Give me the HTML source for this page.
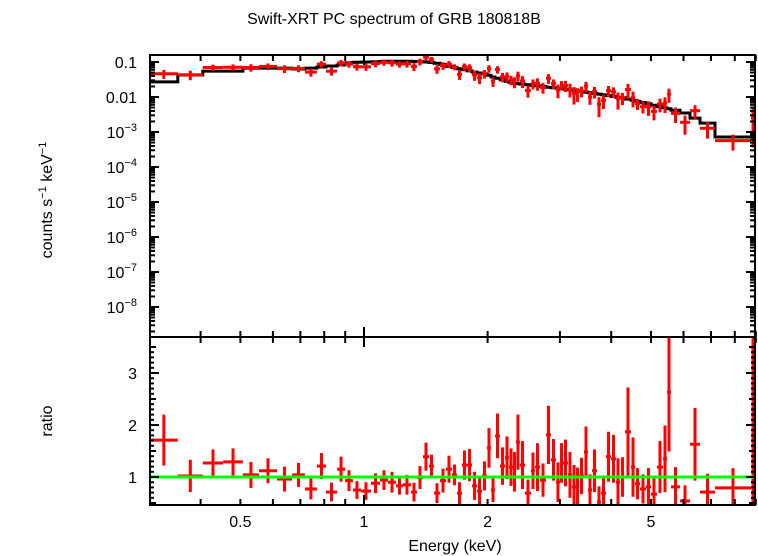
<!DOCTYPE html>
<html><head><meta charset="utf-8">
<style>
html,body{margin:0;padding:0;background:#fff;}
svg{display:block;font-family:"Liberation Sans",sans-serif;}
</style></head>
<body>
<svg id="chart" width="758" height="556" viewBox="0 0 758 556" xmlns="http://www.w3.org/2000/svg">
<defs>
<clipPath id="clipTop"><rect x="150" y="55" width="606" height="282"/></clipPath>
<clipPath id="clipBot"><rect x="150" y="337" width="606" height="168"/></clipPath>
</defs>
<text x="394" y="24" font-size="16" text-anchor="middle">Swift-XRT PC spectrum of GRB 180818B</text>
<text x="455" y="551" font-size="16" text-anchor="middle">Energy (keV)</text>
<text transform="translate(52,200) rotate(-90)" font-size="16" text-anchor="middle">counts s<tspan font-size="11" dy="-6">−1</tspan><tspan dy="6"> keV</tspan><tspan font-size="11" dy="-6">−1</tspan></text>
<text transform="translate(52,421) rotate(-90)" font-size="16" text-anchor="middle">ratio</text>
<g id="gTop" clip-path="url(#clipTop)"></g>
<g id="gBot" clip-path="url(#clipBot)"></g>
<g id="gAxes"></g>
</svg>
<script>
// Bin edges (keV)
const eEdges = [0.301,0.352,0.405,0.454,0.507,0.555,0.614,0.668,0.718,0.768,0.808,0.860,0.899,0.940,0.983,1.040,1.094,1.144,1.197,1.244,1.302,1.346,1.392,1.440,1.481,1.531,1.584,1.638,1.685,1.732,1.782,1.833,1.885,1.938,1.993,2.039,2.085,2.144,2.205,2.255,2.306,2.345,2.398,2.467,2.551,2.609,2.683,2.775,2.854,2.935,3.002,3.053,3.139,3.211,3.284,3.339,3.434,3.512,3.592,3.694,3.778,3.885,3.996,4.109,4.202,4.321,4.470,4.572,4.701,4.862,5.000,5.171,5.349,5.470,5.594,5.884,6.223,6.582,7.159,8.76,8.96];
// Data/model ratio per bin
const ratio = [1.71,1.02,1.27,1.29,1.04,1.12,0.96,1.04,0.77,1.21,0.71,1.15,0.93,0.75,0.73,0.88,0.94,0.90,0.83,0.85,0.71,0.99,1.39,1.21,0.69,0.93,1.15,1.04,0.69,1.23,1.23,0.83,0.73,1.02,1.56,0.75,1.79,1.21,1.37,1.19,1.10,1.67,1.23,0.69,1.12,1.19,0.94,1.81,1.33,0.90,1.27,1.27,1.04,0.81,0.83,1.02,1.48,0.75,1.12,0.52,0.69,1.39,1.35,0.90,1.00,1.87,1.19,0.87,0.77,0.81,0.67,1.19,1.35,2.63,0.81,0.54,1.63,0.71,0.79,3.5];
// Ratio errors
const ratioErr = [0.49,0.31,0.26,0.26,0.25,0.24,0.24,0.23,0.20,0.25,0.18,0.24,0.20,0.17,0.17,0.19,0.19,0.20,0.17,0.19,0.18,0.22,0.27,0.22,0.19,0.23,0.26,0.20,0.21,0.28,0.31,0.27,0.25,0.28,0.38,0.23,0.43,0.36,0.41,0.36,0.38,0.53,0.46,0.26,0.35,0.46,0.32,0.56,0.40,0.38,0.38,0.45,0.44,0.42,0.35,0.35,0.49,0.30,0.41,0.30,0.30,0.48,0.46,0.46,0.38,0.85,0.57,0.30,0.28,0.36,0.30,0.50,0.64,1.14,0.38,0.30,0.70,0.35,0.38,3.0];
// Folded model (counts s^-1 keV^-1) per bin
const model = [0.027,0.0425,0.055,0.055,0.067,0.067,0.067,0.063,0.067,0.072,0.077,0.082,0.094,0.098,0.100,0.102,0.104,0.105,0.105,0.105,0.104,0.103,0.100,0.097,0.092,0.085,0.0753,0.0692,0.0644,0.0599,0.0557,0.0518,0.0485,0.0454,0.0417,0.0373,0.0342,0.031,0.0283,0.0261,0.0248,0.0241,0.0234,0.0223,0.0215,0.0207,0.020,0.019,0.0184,0.0177,0.0173,0.0168,0.0162,0.0156,0.0151,0.0145,0.0138,0.0133,0.0127,0.0121,0.0116,0.011,0.0104,0.0099,0.0095,0.0087,0.0081,0.0075,0.0069,0.0064,0.0058,0.0053,0.0049,0.0046,0.0042,0.0035,0.0025,0.0018,0.00072,0.00072];
const xTicksMajor = [0.5,1,2,5];
const xTickLabels = ["0.5","1","2","5"];
const yTopDecades = [-1,-2,-3,-4,-5,-6,-7,-8];
const ratioTicks = [1,2,3];

const NS="http://www.w3.org/2000/svg";
const X0=150,X1=755,TT=55,TB=337,BT=337,BB=505;
function xS(e){return 364+410.6*Math.log10(e);}
function yT(v){return 62+35*(-1-Math.log10(v));}
function yR(r){return 477-52*(r-1);}
function mk(tag,attrs,parent){const el=document.createElementNS(NS,tag);for(const k in attrs)el.setAttribute(k,attrs[k]);parent.appendChild(el);return el;}
const gTop=document.getElementById('gTop'),gBot=document.getElementById('gBot'),gAx=document.getElementById('gAxes');

// model step line
let d="";
for(let i=0;i<model.length;i++){const xa=xS(eEdges[i]),xb=xS(eEdges[i+1]),y=yT(model[i]);d+=(i===0?"M":"L")+xa.toFixed(1)+","+y.toFixed(1)+"L"+xb.toFixed(1)+","+y.toFixed(1);}
const ml=mk('path',{d:d,fill:'none',stroke:'#000','stroke-width':3},gTop);



// data points (top) and ratio points (bottom)
for(let i=0;i<ratio.length;i++){
  const xa=xS(eEdges[i]),xb=xS(eEdges[i+1]),xc=xS(Math.sqrt(eEdges[i]*eEdges[i+1]));
  const v=model[i]*ratio[i],ve=model[i]*ratioErr[i];
  const g=mk('g',{stroke:'#f00','stroke-width':3},gTop);
  
  
  mk('line',{x1:xa,x2:xb,y1:yT(v),y2:yT(v)},g);
  const lo=Math.max(v-ve,1e-10);
  mk('line',{x1:xc,x2:xc,y1:yT(v+ve),y2:yT(lo)},g);
  const g2=mk('g',{stroke:'#f00','stroke-width':3},gBot);
  
  
  mk('line',{x1:xa,x2:xb,y1:yR(ratio[i]),y2:yR(ratio[i])},g2);
  mk('line',{x1:xc,x2:xc,y1:yR(ratio[i]+ratioErr[i]),y2:yR(ratio[i]-ratioErr[i])},g2);
}
const gl=mk('line',{x1:X0,x2:X1+2,y1:yR(1),y2:yR(1),stroke:'#0f0','stroke-width':3},gBot);



// frames
const f1=mk('rect',{x:X0,y:TT,width:X1-X0,height:TB-TT,fill:'none',stroke:'#000','stroke-width':2},gAx);


const f2=mk('rect',{x:X0,y:BT,width:X1-X0,height:BB-BT,fill:'none',stroke:'#000','stroke-width':2},gAx);



function tick(x1,y1,x2,y2){const t=mk('line',{x1:x1,y1:y1,x2:x2,y2:y2,stroke:'#000','stroke-width':2},gAx);}
// x ticks
const xMinor=[0.4,0.5,0.6,0.7,0.8,0.9,1,2,3,4,5,6,7,8,9];
xMinor.forEach(e=>{const x=xS(e);const L=(e===1)?10:6;
  tick(x,TT,x,TT+L);tick(x,TB-L,x,TB+L);tick(x,BB,x,BB-L);});
xTicksMajor.forEach((e,i)=>{const t=mk('text',{x:xS(e),y:527,'font-size':16,'text-anchor':'middle'},gAx);t.textContent=xTickLabels[i];});
// top y ticks
for(let dec=-9;dec<=-1;dec++){for(let m=1;m<10;m++){const v=m*Math.pow(10,dec);const y=yT(v);if(y<TT||y>TB)continue;const L=m===1?9:5;tick(X0,y,X0+L,y);tick(X1,y,X1-L,y);}}
yTopDecades.forEach(p=>{const y=yT(Math.pow(10,p));const t=mk('text',{x:137,y:y+6,'font-size':16,'text-anchor':'end'},gAx);
  
  
  if(p===-1)t.textContent="0.1";else if(p===-2)t.textContent="0.01";
  else{t.appendChild(document.createTextNode("10"));const s=document.createElementNS(NS,'tspan');s.setAttribute('font-size','11');s.setAttribute('dy','-7');s.textContent="−"+(-p);t.appendChild(s);}
});
// ratio ticks
for(let r=0.5;r<=3.6;r+=0.1){const y=yR(r);if(y<BT||y>BB)continue;const maj=Math.abs(r-Math.round(r))<1e-6;const half=Math.abs(r*2-Math.round(r*2))<1e-6;if(!half&&!maj){tick(X0,y,X0+4,y);tick(X1,y,X1-4,y);}else{const L=maj?9:6;tick(X0,y,X0+L,y);tick(X1,y,X1-L,y);}}
ratioTicks.forEach(r=>{const t=mk('text',{x:137,y:yR(r)+6,'font-size':16,'text-anchor':'end'},gAx);t.textContent=String(r);});
</script>
</body></html>
